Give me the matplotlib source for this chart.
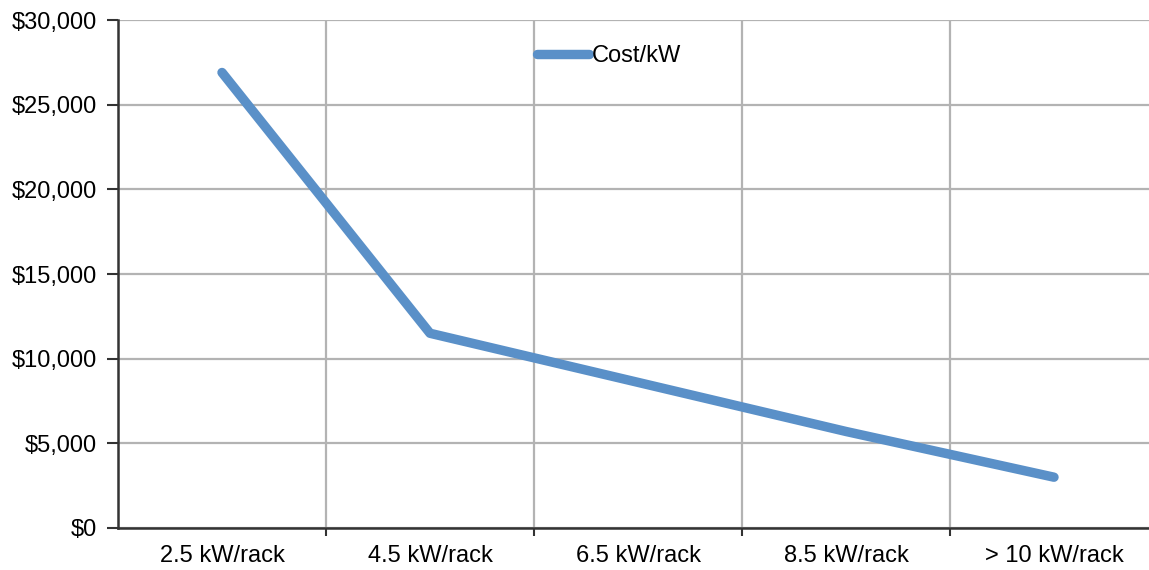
import matplotlib.pyplot as plt
from matplotlib.ticker import FuncFormatter

# Cost per kW by rack density
categories = ['2.5 kW/rack', '4.5 kW/rack', '6.5 kW/rack', '8.5 kW/rack', '> 10 kW/rack']
cost_per_kw = [26900, 11500, 8600, 5700, 3000]

plt.rcParams['font.family'] = ['Liberation Sans', 'DejaVu Sans']

fig = plt.figure(figsize=(11.49, 5.70), dpi=100)
ax = fig.add_axes([118 / 1149, 42 / 570, 1040 / 1149, 508 / 570])

x = list(range(len(categories)))
line, = ax.plot(x, cost_per_kw, color='#5A90C8', lw=6.8,
                solid_capstyle='round', solid_joinstyle='round',
                label='Cost/kW', zorder=3)

ax.set_xlim(-0.5, len(categories) - 0.5)
ax.set_ylim(0, 30000)
ax.set_yticks(range(0, 30001, 5000))
ax.yaxis.set_major_formatter(FuncFormatter(lambda v, p: f'${v:,.0f}'))

# gridlines and ticks sit on the category boundaries, labels in the middle
ax.set_xticks([i + 0.5 for i in x[:-1]])
ax.set_xticklabels([])
ax.set_xticks(x, minor=True)
ax.set_xticklabels(categories, minor=True)
ax.tick_params(axis='x', which='minor', length=0, pad=12, labelsize=17)
ax.tick_params(axis='x', which='major', length=6, width=1.5, color='#333333')
ax.tick_params(axis='y', length=8, width=1.5, color='#333333', pad=7,
               labelsize=17)

ax.grid(True, which='major', color='#B3B3B3', lw=1.6)
ax.set_axisbelow(True)
for side in ['top', 'right']:
    ax.spines[side].set_visible(False)
for side in ['left', 'bottom']:
    ax.spines[side].set_color('#333333')
    ax.spines[side].set_linewidth(1.8)

fig.legend(handles=[line], loc='center', bbox_to_anchor=(609 / 1149, 1 - 56 / 570),
           frameon=False, fontsize=17, handlelength=2.2, handletextpad=0.1)

fig.savefig('out.png', dpi=100)
